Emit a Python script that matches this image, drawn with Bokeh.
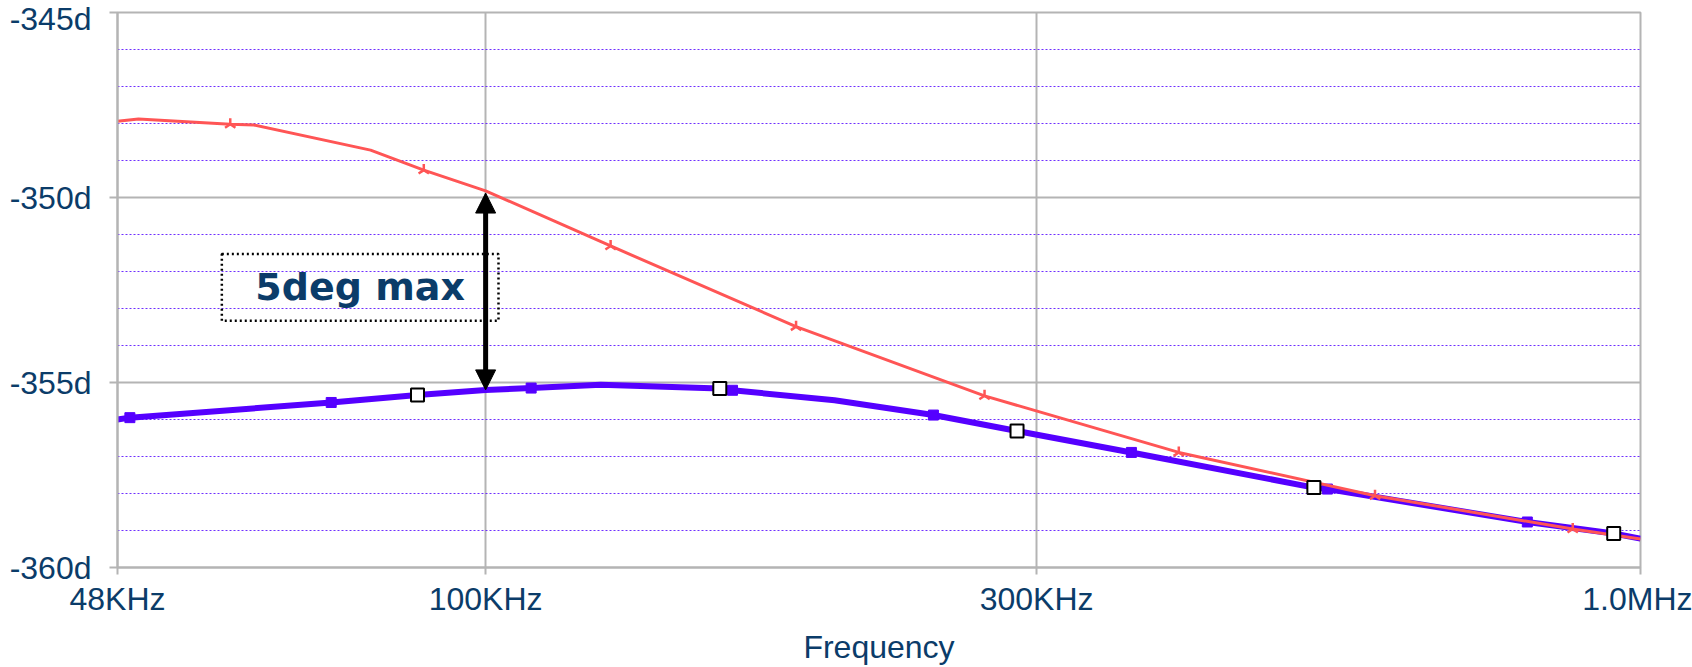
import numpy as np
from bokeh.plotting import figure
from bokeh.models import FixedTicker, Arrow, NormalHead, BoxAnnotation, Label
from bokeh.embed import file_html
from bokeh.resources import INLINE

# ---------------- data ----------------
x_ticks_khz = [48, 100, 300, 1000]
x_tick_labels = ["48KHz", "100KHz", "300KHz", "1.0MHz"]
y_ticks = [-360, -355, -350, -345]
y_tick_labels = ["-360d", "-355d", "-350d", "-345d"]
y_minor_ticks = [-359, -358, -357, -356, -354, -353, -352, -351, -349, -348, -347, -346]
x_title = "Frequency"

# blue (thick) trace vertices
blue_khz = [48, 49.2, 73.5, 87.3, 100, 109.5, 125.8, 159.5, 163.6, 200.5, 244.2,
            288.5, 362.4, 521.4, 535.7, 798, 948, 1000]
blue_deg = [-356.0, -355.95, -355.54, -355.34, -355.20, -355.15, -355.06, -355.16,
            -355.21, -355.48, -355.88, -356.31, -356.89, -357.84, -357.88, -358.77,
            -359.08, -359.22]
# blue filled square markers
blue_mk_khz = [49.2, 73.5, 109.5, 163.6, 244.2, 362.4, 535.7, 798]
blue_mk_deg = [-355.95, -355.54, -355.15, -355.21, -355.88, -356.89, -357.88, -358.77]
# white cursor squares on blue trace
white_mk_khz = [87.3, 159.5, 288.5, 521.4, 948]
white_mk_deg = [-355.34, -355.16, -356.31, -357.84, -359.08]

# red (thin) trace vertices
red_khz = [48, 50.05, 60.1, 63, 79.5, 88.4, 100, 128.3, 185.7, 270.4, 398.3, 589,
           873.6, 1000]
red_deg = [-347.94, -347.88, -348.02, -348.04, -348.72, -349.26, -349.82, -351.31,
           -353.49, -355.36, -356.89, -358.06, -358.96, -359.23]
red_mk_khz = [60.1, 88.4, 128.3, 185.7, 270.4, 398.3, 589, 873.6]
red_mk_deg = [-348.02, -349.26, -351.31, -353.49, -355.36, -356.89, -358.06, -358.96]

# annotation
arrow_khz = 100
arrow_low = -355.2
arrow_high = -349.88
note_text = "5deg max"
note_box = dict(left=59.1, right=102.6, top=-351.53, bottom=-353.33)

# ---------------- style ----------------
BLUE = "#5500ff"
RED = "#ff5555"
NAVY = "#0b3c69"
GRID = "#b4b4b4"
DOT = "#6f2fff"
FONT = "Liberation Sans"

p = figure(width=1692, height=667, x_axis_type="log", x_range=(48, 1000),
           y_range=(-360, -345), output_backend="svg", toolbar_location=None,
           min_border_left=117, min_border_right=52, min_border_top=12,
           min_border_bottom=98)
p.background_fill_color = "white"
p.border_fill_color = "white"
p.outline_line_color = GRID
p.outline_line_width = 2

# axes
p.xaxis.ticker = FixedTicker(ticks=x_ticks_khz)
p.xaxis.major_label_overrides = dict(zip(x_ticks_khz, x_tick_labels))
p.yaxis.ticker = FixedTicker(ticks=y_ticks, minor_ticks=y_minor_ticks)
p.yaxis.major_label_overrides = dict(zip(y_ticks, y_tick_labels))

for ax in (p.xaxis, p.yaxis):
    ax.axis_line_color = GRID
    ax.axis_line_width = 2
    ax.major_tick_line_color = GRID
    ax.major_tick_line_width = 2
    ax.major_tick_in = 0
    ax.minor_tick_in = 0
    ax.minor_tick_out = 0
    ax.major_label_text_font = FONT
    ax.major_label_text_font_size = "32px"
    ax.major_label_text_color = NAVY

p.xaxis.major_tick_out = 7
p.xaxis.major_label_standoff = 6
p.yaxis.major_tick_out = 8
p.yaxis.major_label_standoff = 18
p.yaxis.major_label_text_baseline = "top"

p.xaxis.axis_label = x_title
p.xaxis.axis_label_text_font = FONT
p.xaxis.axis_label_text_font_size = "32px"
p.xaxis.axis_label_text_font_style = "normal"
p.xaxis.axis_label_text_color = NAVY
p.xaxis.axis_label_standoff = 9

# grids
p.xgrid.grid_line_color = GRID
p.xgrid.grid_line_width = 2
p.ygrid.grid_line_color = GRID
p.ygrid.grid_line_width = 2
p.ygrid.minor_grid_line_color = DOT
p.ygrid.minor_grid_line_width = 1
p.ygrid.minor_grid_line_dash = "2 2"

# blue trace
p.line(blue_khz, blue_deg, line_color=BLUE, line_width=6)
p.scatter(blue_mk_khz, blue_mk_deg, marker="square", size=10, fill_color=BLUE,
          line_color=BLUE)

# red trace
p.line(red_khz, red_deg, line_color=RED, line_width=3)
p.scatter(red_mk_khz, red_mk_deg, marker="y", angle=np.pi, size=12,
          line_color=RED, line_width=2.5)

# white cursor squares
p.scatter(white_mk_khz, white_mk_deg, marker="square", size=13,
          fill_color="white", line_color="black", line_width=2)

# annotations
p.add_layout(BoxAnnotation(**note_box, fill_alpha=0, line_color="black",
                           line_alpha=1, line_width=2.5, line_dash="2 3"))
p.add_layout(Label(x=np.sqrt(note_box["left"] * note_box["right"]),
                   y=(note_box["top"] + note_box["bottom"]) / 2,
                   text=note_text, text_align="center", text_baseline="middle",
                   text_font="DejaVu Sans", text_font_style="bold",
                   text_font_size="38px", text_color=NAVY))
p.add_layout(Arrow(start=NormalHead(size=20, fill_color="black", line_color="black"),
                   end=NormalHead(size=20, fill_color="black", line_color="black"),
                   x_start=arrow_khz, y_start=arrow_low, x_end=arrow_khz,
                   y_end=arrow_high, line_color="black", line_width=5))

open("out.html", "w").write(file_html(p, INLINE))
